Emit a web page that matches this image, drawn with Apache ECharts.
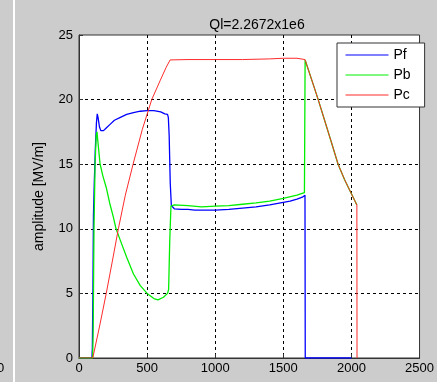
<!DOCTYPE html>
<html>
<head>
<meta charset="utf-8">
<script src="https://cdn.jsdelivr.net/npm/echarts@6/dist/echarts.min.js"></script>
<style>
  html, body { margin: 0; padding: 0; background: #cccccc; }
  #chart { width: 437px; height: 382px; }
</style>
</head>
<body>
<div id="chart"></div>
<script>
const xTicks = [0, 500, 1000, 1500, 2000, 2500];
const yTicks = [0, 5, 10, 15, 20, 25];

// Pf (forward)
const pfT = [0, 95, 98, 102, 106, 112, 120, 128, 134, 140, 150, 160, 168, 180, 200, 230, 260, 300, 350, 400, 450, 500, 550, 600, 630, 650, 656, 662, 670, 678, 700, 750, 800, 850, 900, 950, 1000, 1100, 1200, 1300, 1400, 1500, 1550, 1600, 1640, 1659, 1661, 2000];
const pfV = [0, 0, 0.8, 5, 11, 13.5, 16.2, 18.2, 18.9, 18.6, 17.9, 17.6, 17.5, 17.6, 17.8, 18.1, 18.4, 18.6, 18.85, 19.0, 19.1, 19.15, 19.15, 19.05, 18.9, 18.85, 18.6, 17.2, 13.5, 11.8, 11.55, 11.5, 11.5, 11.45, 11.45, 11.45, 11.45, 11.5, 11.6, 11.7, 11.85, 12.05, 12.15, 12.3, 12.45, 12.6, 0, 0];

// Pb (backward)
const pbT = [0, 100, 104, 110, 118, 126, 132, 140, 155, 175, 200, 225, 250, 272, 300, 350, 400, 450, 500, 550, 580, 620, 650, 658, 666, 675, 700, 800, 900, 1000, 1100, 1200, 1300, 1400, 1500, 1600, 1655, 1660, 1700, 1756, 1800, 1850, 1902, 1950, 1998, 2040];
const pbV = [0, 0, 2, 10, 15, 17.2, 17.5, 16.6, 15, 14.1, 13.2, 12.0, 11.0, 10.0, 9.2, 7.8, 6.5, 5.6, 5.0, 4.6, 4.5, 4.7, 5.0, 5.3, 9.0, 11.75, 11.85, 11.8, 11.7, 11.75, 11.8, 11.9, 12.0, 12.15, 12.35, 12.6, 12.8, 23.07, 21.8, 20.0, 18.5, 16.8, 15.0, 13.8, 12.75, 11.84];

// Pc (cavity)
const pcT = [0, 101, 150, 200, 245, 289, 340, 397, 465, 534, 597, 640, 669, 800, 1000, 1200, 1400, 1500, 1600, 1659, 1700, 1756, 1800, 1850, 1902, 1950, 1998, 2040, 2041];
const pcV = [0, 0, 2.4, 5, 7.5, 10, 12.6, 15, 17.7, 20, 21.5, 22.5, 23.07, 23.1, 23.1, 23.1, 23.15, 23.2, 23.2, 23.1, 21.8, 20.0, 18.5, 16.8, 15.0, 13.8, 12.75, 11.84, 0];

const pair = (t, v) => t.map((x, i) => [x, v[i]]);
const font = "'Liberation Sans', Arial, sans-serif";

const chart = echarts.init(document.getElementById('chart'));
chart.setOption({
  backgroundColor: '#cccccc',
  animation: false,
  title: {
    text: 'Ql=2.2672x1e6',
    left: 252,
    top: 13,
    textAlign: 'center',
    textStyle: { fontFamily: font, fontSize: 14, fontWeight: 'normal', color: '#000' },
  },
  grid: {
    left: 79, top: 35, right: 12, bottom: 24,
    show: true,
    backgroundColor: '#ffffff',
    borderColor: '#333',
    borderWidth: 1,
  },
  legend: {
    orient: 'vertical',
    left: 337,
    top: 43,
    padding: [5, 14, 5, 8],
    itemGap: 6,
    itemWidth: 43,
    itemHeight: 14,
    backgroundColor: '#ffffff',
    borderColor: '#333',
    borderWidth: 1,
    borderRadius: 0,
    itemStyle: { opacity: 0 },
    lineStyle: { width: 1 },
    textStyle: { fontFamily: font, fontSize: 14, color: '#000' },
    data: ['Pf', 'Pb', 'Pc'],
  },
  xAxis: {
    type: 'value',
    min: xTicks[0],
    max: xTicks[xTicks.length - 1],
    interval: 500,
    axisLine: { lineStyle: { color: '#333' } },
    axisTick: { inside: true, length: 4, lineStyle: { color: '#333' } },
    axisLabel: { fontFamily: font, fontSize: 13, color: '#000', margin: 4, formatter: v => String(v) },
    splitLine: { show: true, showMinLine: false, showMaxLine: false, lineStyle: { color: '#000', type: [3, 3] } },
  },
  yAxis: {
    type: 'value',
    min: yTicks[0],
    max: yTicks[yTicks.length - 1],
    interval: 5,
    name: 'amplitude [MV/m]',
    nameLocation: 'middle',
    nameGap: 33,
    nameTextStyle: { fontFamily: font, fontSize: 14, color: '#000' },
    axisLine: { show: true, lineStyle: { color: '#333' } },
    axisTick: { show: true, inside: true, length: 4, lineStyle: { color: '#333' } },
    axisLabel: { fontFamily: font, fontSize: 13, color: '#000', margin: 6, formatter: v => String(v) },
    splitLine: { show: true, showMinLine: false, showMaxLine: false, lineStyle: { color: '#000', type: [3, 3] } },
  },
  series: [
    {
      name: 'Pf', type: 'line', symbol: 'none',
      data: pair(pfT, pfV),
      lineStyle: { color: '#0000ff', width: 1.3 }, itemStyle: { color: '#0000ff' },
    },
    {
      name: 'Pb', type: 'line', symbol: 'none',
      data: pair(pbT, pbV),
      lineStyle: { color: '#00ee00', width: 1.3 }, itemStyle: { color: '#00ee00' },
    },
    {
      name: 'Pc', type: 'line', symbol: 'none',
      data: pair(pcT, pcV),
      lineStyle: { color: '#ff2a2a', width: 1 }, itemStyle: { color: '#ff2a2a' },
    },
  ],
  graphic: [
    { type: 'rect', shape: { x: 13, y: 0, width: 2, height: 382 }, style: { fill: '#ffffff' }, silent: true },
    { type: 'text', x: -3, y: 362, style: { text: '0', font: '13px ' + font, fill: '#000' }, silent: true },
  ],
});
</script>
</body>
</html>
